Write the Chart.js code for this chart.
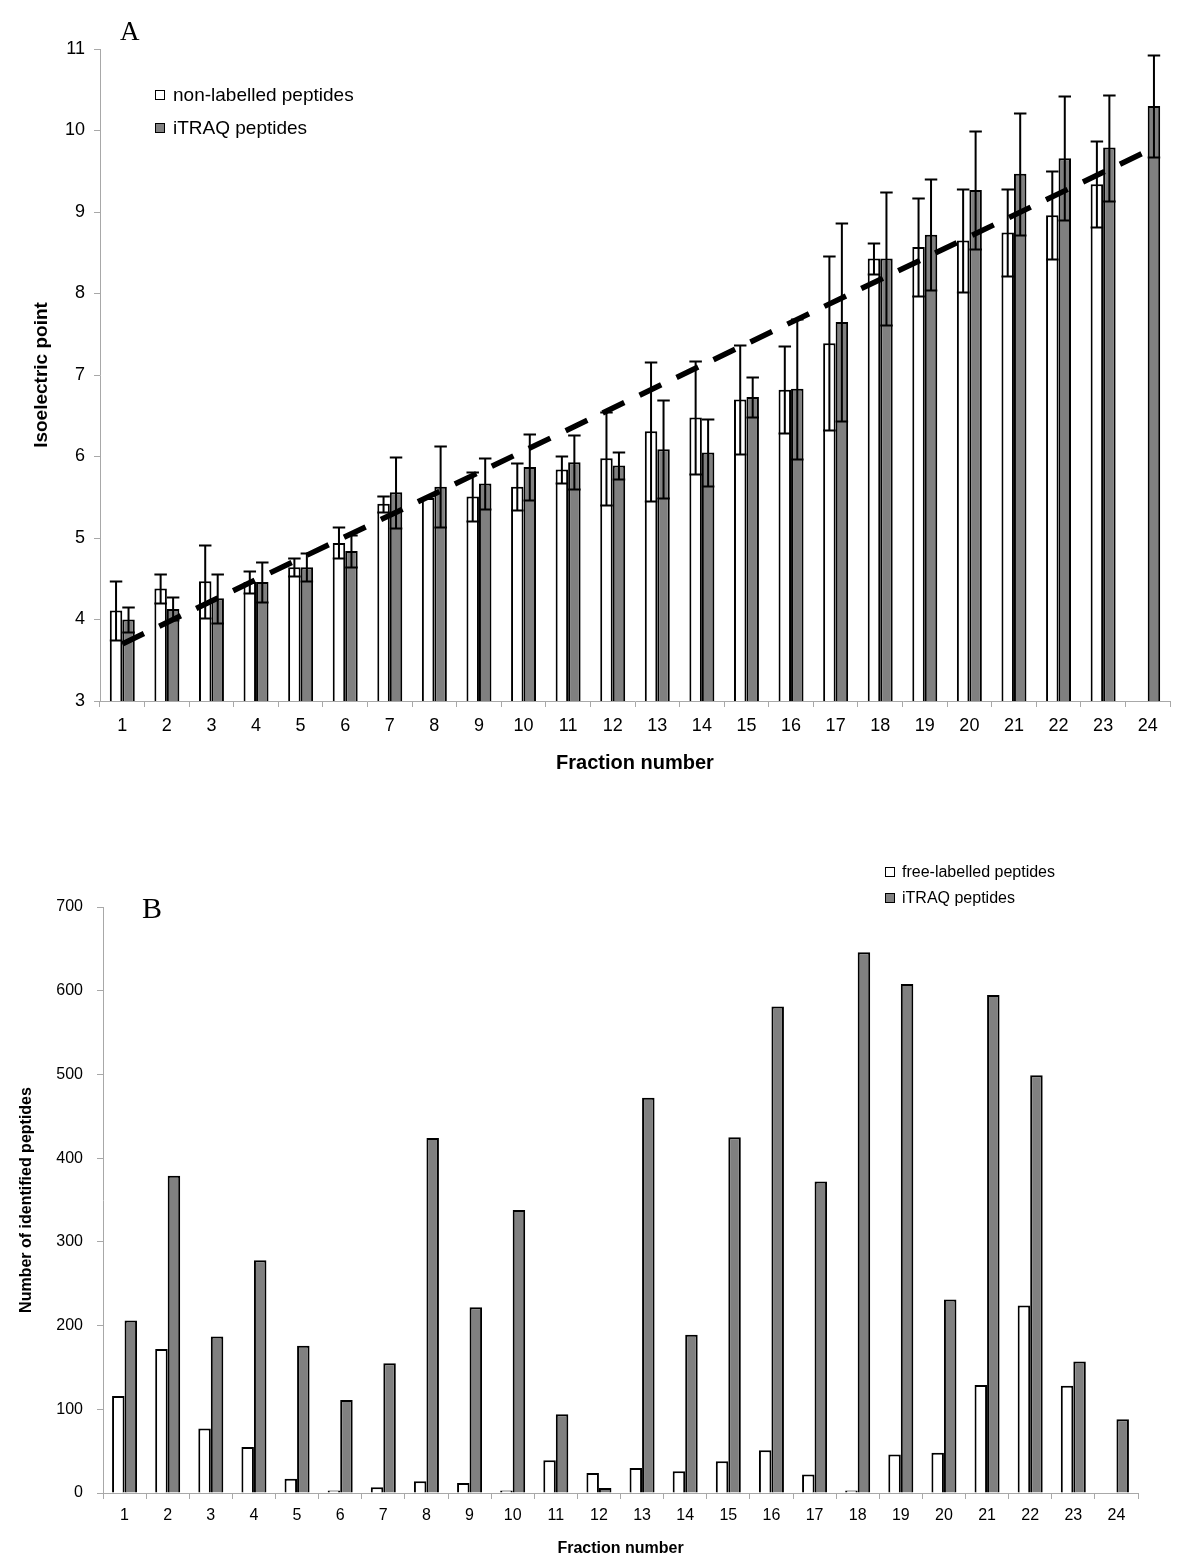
<!DOCTYPE html>
<html>
<head>
<meta charset="utf-8">
<title>Isoelectric point and identified peptides per fraction</title>
<script src="https://cdn.jsdelivr.net/npm/chart.js@4.4.1/dist/chart.umd.min.js"></script>
<style>
  body { margin: 0; background: #fff; }
  #page { position: relative; width: 1200px; height: 1564px; overflow: hidden; font-family: "Liberation Sans", Arial, sans-serif; color: #000; }
  canvas { position: absolute; left: 0; }
  .panel { position: absolute; font-family: "Liberation Serif", "Times New Roman", serif; line-height: 1; white-space: nowrap; }
  .key { position: absolute; display: flex; align-items: center; white-space: nowrap; }
  .key .box { display: inline-block; box-sizing: border-box; width: 10px; height: 10px; border: 1.5px solid #000; }
</style>
</head>
<body>
<div id="page">
  <canvas id="chartA" width="1200" height="800" style="top:0"></canvas>
  <canvas id="chartB" width="1200" height="724" style="top:840px"></canvas>

  <div class="panel" style="left:120px; top:18px; font-size:27px;">A</div>
  <div class="key" style="left:155px; top:84px; font-size:19px; line-height:22px;"><span class="box" style="background:#fff; margin-right:8px;"></span>non-labelled peptides</div>
  <div class="key" style="left:155px; top:117px; font-size:19px; line-height:22px;"><span class="box" style="background:#808080; margin-right:8px;"></span>iTRAQ peptides</div>

  <div class="panel" style="left:142px; top:893px; font-size:30px;">B</div>
  <div class="key" style="left:885px; top:862px; font-size:16px; line-height:20px;"><span class="box" style="background:#fff; margin-right:7px;"></span>free-labelled peptides</div>
  <div class="key" style="left:885px; top:888px; font-size:16px; line-height:20px;"><span class="box" style="background:#808080; margin-right:7px;"></span>iTRAQ peptides</div>
</div>

<script>
// fractions on the x axis (both panels)
const fractions = ['1','2','3','4','5','6','7','8','9','10','11','12',
                   '13','14','15','16','17','18','19','20','21','22','23','24'];

// panel A - mean pI per fraction and its spread
const nonLabelledPi = [4.11, 4.38, 4.47, 4.46, 4.64, 4.94, 5.42, 5.49, 5.51, 5.63, 5.84, 5.98,
                       6.31, 6.48, 6.70, 6.82, 7.39, 8.43, 8.57, 8.65, 8.75, 8.96, 9.34, null];
const nonLabelledErr = [0.36, 0.18, 0.45, 0.13, 0.11, 0.19, 0.10, 0, 0.30, 0.29, 0.17, 0.57,
                        0.85, 0.69, 0.67, 0.53, 1.07, 0.19, 0.60, 0.63, 0.53, 0.54, 0.53, null];
const itraqPi = [4.00, 4.13, 4.26, 4.46, 4.64, 4.84, 5.56, 5.63, 5.67, 5.87, 5.93, 5.89,
                 6.09, 6.05, 6.73, 6.83, 7.65, 8.43, 8.72, 9.27, 9.47, 9.66, 9.79, 10.30];
const itraqErr = [0.15, 0.14, 0.30, 0.24, 0.17, 0.20, 0.44, 0.50, 0.31, 0.40, 0.33, 0.17,
                  0.60, 0.41, 0.25, 0.86, 1.22, 0.82, 0.68, 0.73, 0.75, 0.76, 0.65, 0.63];
// dashed trend line: value at fraction 1 and at fraction 24
const trendEnds = [3.70, 9.75];
const piTicks = { min: 3, max: 11, step: 1 };

// panel B - number of identified peptides
const freeLabelledCount = [116, 172, 77, 55, 17, 3, 7, 14, 12, 3, 39, 24,
                           30, 26, 38, 51, 22, 3, 46, 48, 129, 224, 128, null];
const itraqCount = [206, 379, 187, 278, 176, 111, 155, 424, 222, 338, 94, 6,
                    472, 189, 425, 581, 372, 646, 608, 231, 595, 499, 157, 88];
const countTicks = { min: 0, max: 700, step: 100 };

Chart.defaults.font.family = '"Liberation Sans", Arial, sans-serif';
Chart.defaults.color = '#000';

const axisGrey = '#a8a8a8';

// draws the +/- bars on top of each bar dataset that has an "errors" list
const errorBars = {
  id: 'errorBars',
  afterDatasetDraw(chart, args) {
    const ds = chart.data.datasets[args.index];
    if (!ds.errors) return;
    const y = chart.scales.y;
    const ctx = chart.ctx;
    ctx.save();
    ctx.strokeStyle = '#000';
    ctx.lineWidth = 2;
    args.meta.data.forEach(function(bar, i) {
      const v = ds.data[i], e = ds.errors[i];
      if (v == null || !e) return;
      const top = Math.round(y.getPixelForValue(v + e)) + 0.5;
      const bot = Math.round(y.getPixelForValue(v - e)) + 0.5;
      const half = bar.width / 2;
      ctx.beginPath();
      ctx.moveTo(bar.x, top); ctx.lineTo(bar.x, bot);
      ctx.moveTo(bar.x - half, top); ctx.lineTo(bar.x + half, top);
      ctx.moveTo(bar.x - half, bot); ctx.lineTo(bar.x + half, bot);
      ctx.stroke();
    });
    ctx.restore();
  }
};

function trendData() {
  return fractions.map(function(f, i) {
    if (i === 0) return trendEnds[0];
    if (i === fractions.length - 1) return trendEnds[1];
    return null;
  });
}

// Panel A
new Chart(document.getElementById('chartA'), {
  type: 'bar',
  data: {
    labels: fractions,
    datasets: [{
      type: 'line',
      label: 'trend',
      data: trendData(),
      spanGaps: true,
      borderColor: '#000',
      borderWidth: 5.5,
      borderDash: [24, 17],
      borderCapStyle: 'butt',
      pointRadius: 0,
      fill: false,
      order: 0
    }, {
      label: 'non-labelled peptides',
      data: nonLabelledPi,
      errors: nonLabelledErr,
      backgroundColor: '#ffffff',
      borderColor: '#000',
      borderWidth: 2,
      categoryPercentage: 0.56,
      barPercentage: 1.0,
      order: 1
    }, {
      label: 'iTRAQ peptides',
      data: itraqPi,
      errors: itraqErr,
      backgroundColor: '#808080',
      borderColor: '#000',
      borderWidth: 2,
      categoryPercentage: 0.56,
      barPercentage: 1.0,
      order: 1
    }]
  },
  options: {
    responsive: false,
    animation: false,
    layout: { padding: { top: 49, right: 30, bottom: 0, left: 0 } },
    plugins: { legend: { display: false }, tooltip: { enabled: false } },
    scales: {
      x: {
        grid: { offset: true, drawOnChartArea: false, tickLength: 6, color: axisGrey },
        border: { color: axisGrey },
        ticks: { font: { size: 18 }, padding: 8, maxRotation: 0, autoSkip: false },
        title: { display: true, text: 'Fraction number', font: { size: 20, weight: 'bold' }, padding: { top: 0, bottom: 25 } },
        afterFit: function(s) { s.height = 99; }
      },
      y: {
        min: piTicks.min,
        max: piTicks.max,
        ticks: { stepSize: piTicks.step, font: { size: 18 }, padding: 9 },
        grid: { drawOnChartArea: false, tickLength: 6, color: axisGrey },
        border: { color: axisGrey },
        title: { display: true, text: 'Isoelectric point', font: { size: 19, weight: 'bold' }, padding: { top: 30, bottom: 0 } },
        afterFit: function(s) { s.width = 100; }
      }
    }
  },
  plugins: [errorBars]
});

// Panel B
new Chart(document.getElementById('chartB'), {
  type: 'bar',
  data: {
    labels: fractions,
    datasets: [{
      label: 'free-labelled peptides',
      data: freeLabelledCount,
      backgroundColor: '#ffffff',
      borderColor: '#000',
      borderWidth: 2,
      categoryPercentage: 0.58,
      barPercentage: 1.0
    }, {
      label: 'iTRAQ peptides',
      data: itraqCount,
      backgroundColor: '#808080',
      borderColor: '#000',
      borderWidth: 2,
      categoryPercentage: 0.58,
      barPercentage: 1.0
    }]
  },
  options: {
    responsive: false,
    animation: false,
    layout: { padding: { top: 67, right: 62, bottom: 0, left: 0 } },
    plugins: { legend: { display: false }, tooltip: { enabled: false } },
    scales: {
      x: {
        grid: { offset: true, drawOnChartArea: false, tickLength: 6, color: axisGrey },
        border: { color: axisGrey },
        ticks: { font: { size: 16 }, padding: 7, maxRotation: 0, autoSkip: false },
        title: { display: true, text: 'Fraction number', font: { size: 16, weight: 'bold' }, padding: { top: 0, bottom: 6 } },
        afterFit: function(s) { s.height = 71; }
      },
      y: {
        min: countTicks.min,
        max: countTicks.max,
        ticks: { stepSize: countTicks.step, font: { size: 16 }, padding: 14 },
        grid: { drawOnChartArea: false, tickLength: 6, color: axisGrey },
        border: { color: axisGrey },
        title: { display: true, text: 'Number of identified peptides', font: { size: 16, weight: 'bold' }, padding: { top: 17, bottom: 0 } },
        afterFit: function(s) { s.width = 103; }
      }
    }
  }
});
</script>
</body>
</html>
